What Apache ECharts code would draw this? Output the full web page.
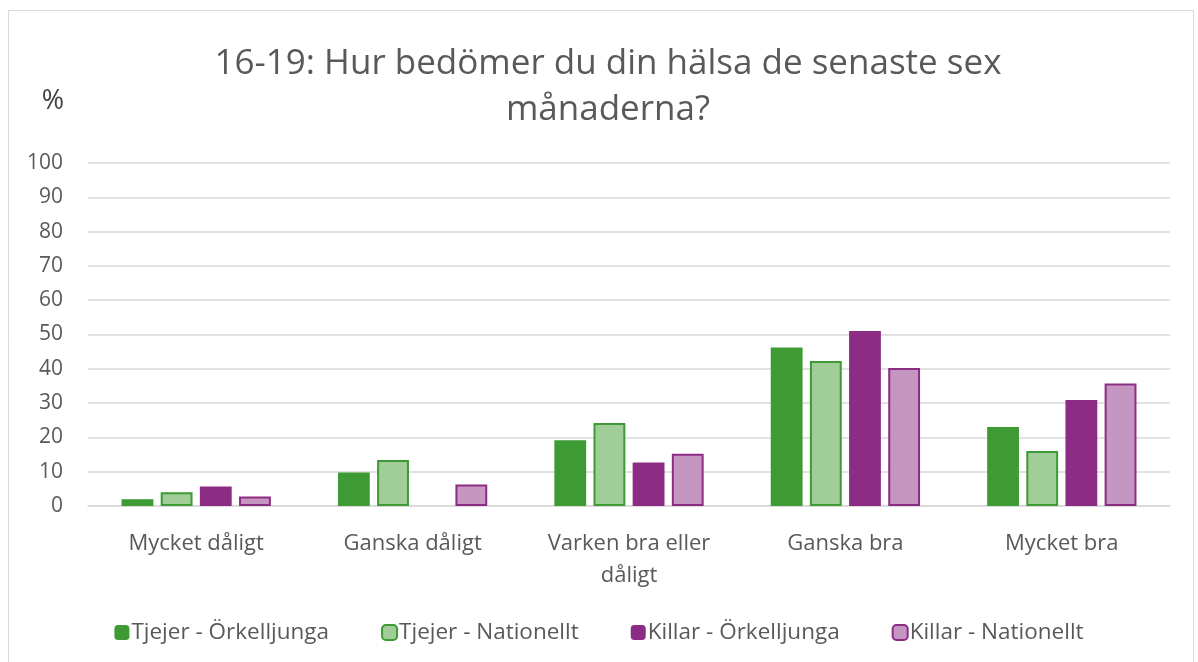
<!DOCTYPE html>
<html><head><meta charset="utf-8">
<script src="https://cdn.jsdelivr.net/npm/echarts@6/dist/echarts.min.js"></script>
<style>html,body{margin:0;padding:0;background:#fff}#c{width:1198px;height:662px}</style>
</head><body><div id="c"></div>
<script>
const categories = ['Mycket dåligt', 'Ganska dåligt', 'Varken bra eller dåligt', 'Ganska bra', 'Mycket bra'];
const seriesNames = ['Tjejer - Örkelljunga', 'Tjejer - Nationellt', 'Killar - Örkelljunga', 'Killar - Nationellt'];
const tjejerOrkelljunga = [2.0, 9.8, 19.2, 46.2, 23.0];
const tjejerNationellt = [4.0, 13.4, 24.2, 42.3, 16.0];
const killarOrkelljunga = [5.7, null, 12.7, 51.0, 30.9];
const killarNationellt = [2.8, 6.3, 15.2, 40.2, 35.7];
const yTicks = [0, 10, 20, 30, 40, 50, 60, 70, 80, 90, 100];

const font = '"Open Sans", "Noto Sans", sans-serif';
const txt = '#595959';
const styles = [
  {color: '#3d9a35', borderColor: '#3d9a35'},
  {color: '#a1cd99', borderColor: '#3d9a35'},
  {color: '#8d2c84', borderColor: '#8d2c84'},
  {color: '#c496c1', borderColor: '#8d2c84'}
];
const values = [tjejerOrkelljunga, tjejerNationellt, killarOrkelljunga, killarNationellt];

const chart = echarts.init(document.getElementById('c'));
chart.setOption({
  animation: false,
  backgroundColor: '#fff',
  graphic: [{type: 'rect', shape: {x: 8.5, y: 10.5, width: 1185, height: 660}, style: {fill: 'none', stroke: '#d9d9d9', lineWidth: 1}, silent: true}],
  title: {
    text: '16-19: Hur bedömer du din hälsa de senaste sex\nmånaderna?',
    left: 603, top: 36, textAlign: 'center',
    textStyle: {fontFamily: font, fontSize: 35, fontWeight: 'normal', color: txt, lineHeight: 46}
  },
  legend: {
    bottom: 13, left: 'center',
    itemWidth: 15, itemHeight: 15, itemGap: 52,
    textStyle: {fontFamily: font, fontSize: 22.5, color: txt, padding: [0, 0, 0, -3]},
    data: seriesNames
  },
  grid: {left: 88, right: 28, top: 163, bottom: 156},
  xAxis: {
    type: 'category', data: categories,
    axisLine: {lineStyle: {color: '#d9d9d9', width: 1.5}},
    axisTick: {show: false},
    axisLabel: {
      fontFamily: font, fontSize: 22, color: txt, margin: 22, lineHeight: 32,
      formatter: v => v === 'Varken bra eller dåligt' ? 'Varken bra eller\ndåligt' : v
    }
  },
  yAxis: {
    type: 'value', min: 0, max: 100, interval: 10,
    name: '%', nameLocation: 'end', nameGap: 0,
    nameTextStyle: {fontFamily: font, fontSize: 27, color: '#404040', align: 'right', padding: [0, 24, 48, 0]},
    axisLine: {show: false}, axisTick: {show: false},
    axisLabel: {fontFamily: font, fontSize: 21, color: txt, margin: 25,
      formatter: v => yTicks.includes(v) ? String(v) : ''},
    splitLine: {lineStyle: {color: '#d9d9d9', width: 1.5}}
  },
  series: seriesNames.map((n, i) => ({
    name: n, type: 'bar', data: values[i],
    barGap: '23%', barCategoryGap: '31%',
    itemStyle: {color: styles[i].color, borderColor: styles[i].borderColor, borderWidth: (i === 1 || i === 3) ? 2 : 0}
  }))
});
</script></body></html>
